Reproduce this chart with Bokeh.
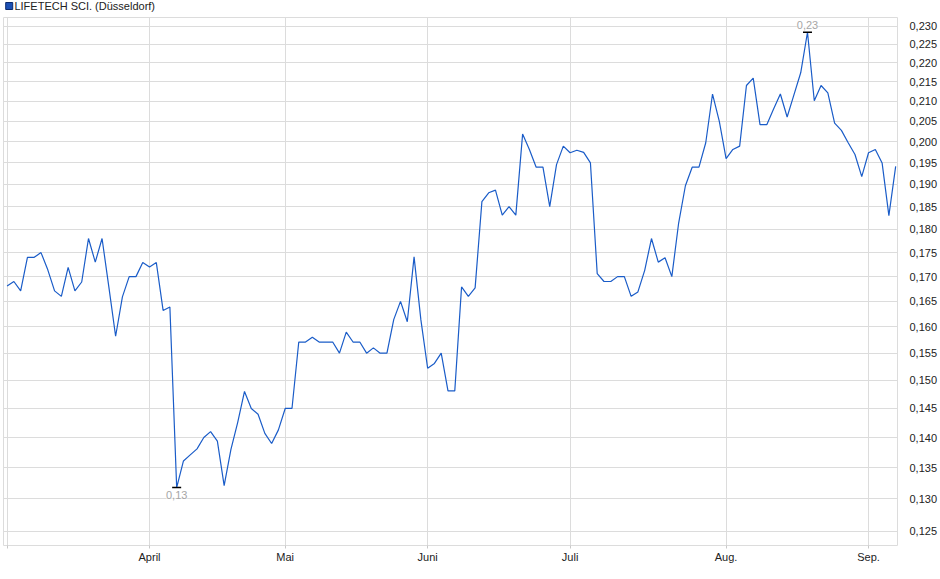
from bokeh.plotting import figure
from bokeh.layouts import column
from bokeh.models import (Range1d, FixedTicker, CustomJSTickFormatter,
                          ColumnDataSource)
from bokeh.core.properties import value
from bokeh.embed import file_html
from bokeh.resources import INLINE

series_name = "LIFETECH SCI. (Düsseldorf)"

# closing prices per trading day (index 0 = first trading day in March)
prices = [
    0.1681, 0.1690, 0.1671, 0.1740, 0.1740, 0.1750, 0.1714, 0.1671, 0.1660, 0.1719,
    0.1671, 0.1689, 0.1780, 0.1730, 0.1780, 0.1679, 0.1582, 0.1659, 0.1700, 0.1700,
    0.1729, 0.1720, 0.1729, 0.1632, 0.1639, 0.1318, 0.1361, 0.1371, 0.1381, 0.1400,
    0.1410, 0.1394, 0.1321, 0.1380, 0.1426, 0.1480, 0.1450, 0.1440, 0.1407, 0.1390,
    0.1413, 0.1450, 0.1450, 0.1571, 0.1571, 0.1580, 0.1571, 0.1571, 0.1571, 0.1550,
    0.1590, 0.1571, 0.1571, 0.1550, 0.1560, 0.1550, 0.1550, 0.1614, 0.1650, 0.1610,
    0.1741, 0.1614, 0.1522, 0.1531, 0.1550, 0.1481, 0.1481, 0.1679, 0.1660, 0.1677,
    0.1861, 0.1881, 0.1887, 0.1831, 0.1850, 0.1831, 0.2019, 0.1982, 0.1940, 0.1940,
    0.1850, 0.1946, 0.1990, 0.1974, 0.1980, 0.1975, 0.1950, 0.1706, 0.1690, 0.1690,
    0.1700, 0.1700, 0.1660, 0.1669, 0.1713, 0.1780, 0.1730, 0.1739, 0.1700, 0.1813,
    0.1897, 0.1940, 0.1940, 0.1998, 0.2119, 0.2050, 0.1960, 0.1982, 0.1990, 0.2141,
    0.2160, 0.2042, 0.2042, 0.2081, 0.2119, 0.2061, 0.2117, 0.2174, 0.2283, 0.2102,
    0.2141, 0.2122, 0.2046, 0.2028, 0.1998, 0.1970, 0.1918, 0.1974, 0.1982, 0.1950,
    0.1830, 0.1942,
]
day_index = list(range(len(prices)))

# trading-day index of first trading day of each month, and its label
month_tick_index = [0, 21, 41, 62, 83, 106, 127]
month_labels = ["", "April", "Mai", "Juni", "Juli", "Aug.", "Sep."]

price_ticks = [0.125, 0.130, 0.135, 0.140, 0.145, 0.150, 0.155, 0.160, 0.165,
               0.170, 0.175, 0.180, 0.185, 0.190, 0.195, 0.200, 0.205, 0.210,
               0.215, 0.220, 0.225, 0.230]

FONT = "Liberation Sans"
GRID = "#dcdcdc"
LINE_COLOR = "#1a5cc8"
TEXT_COLOR = "#222222"
TOTAL_W = 932
LEG_H = 17

# ---------- legend strip (separate small figure above the chart) ----------
leg = figure(width=TOTAL_W, height=LEG_H, output_backend="svg",
             toolbar_location=None, x_axis_location=None, y_axis_location=None,
             x_range=Range1d(0, TOTAL_W), y_range=Range1d(0, LEG_H))
leg.min_border = 0
leg.outline_line_color = None
leg.xgrid.visible = False
leg.ygrid.visible = False
leg.scatter([6], [LEG_H - 5.5], marker="square", size=7, fill_color="#1c50b4",
            line_color="#0b2a6e", line_width=1)
leg.text([11.5], [LEG_H - 5.5], text=[series_name], text_baseline="middle",
         text_align="left", text_font=value(FONT), text_font_size="11px",
         text_color=TEXT_COLOR)

# ---------- main chart ----------
FRAME_H = 528
p = figure(frame_width=894, frame_height=FRAME_H, output_backend="svg",
           toolbar_location=None, y_axis_type="log", y_axis_location="right",
           x_range=Range1d(-0.53, 131.27),
           y_range=Range1d(0.1229, 0.2324))
p.min_border_left = 3
p.min_border_top = 0
p.min_border_right = 0
p.min_border_bottom = 4
p.outline_line_color = GRID
p.outline_line_width = 1
p.background_fill_color = "white"
p.border_fill_color = "white"

p.xaxis.ticker = FixedTicker(ticks=month_tick_index, minor_ticks=[])
p.xaxis.major_label_overrides = {t: l for t, l in zip(month_tick_index, month_labels)}
p.xaxis.axis_line_color = None
p.xaxis.major_tick_in = 0
p.xaxis.major_tick_out = 3
p.xaxis.major_tick_line_color = "#c8c8c8"
p.xaxis.minor_tick_line_color = None
p.xaxis.major_label_standoff = 2
p.xaxis.major_label_text_font = FONT
p.xaxis.major_label_text_font_size = "11px"
p.xaxis.major_label_text_color = TEXT_COLOR

p.yaxis.ticker = FixedTicker(ticks=price_ticks, minor_ticks=[])
p.yaxis.formatter = CustomJSTickFormatter(code="return tick.toFixed(3).replace('.', ',');")
p.yaxis.axis_line_color = None
p.yaxis.major_tick_line_color = None
p.yaxis.minor_tick_line_color = None
p.yaxis.major_label_standoff = 6
p.yaxis.major_label_text_font = FONT
p.yaxis.major_label_text_font_size = "11px"
p.yaxis.major_label_text_color = TEXT_COLOR

p.xgrid.grid_line_color = GRID
p.ygrid.grid_line_color = GRID

src = ColumnDataSource(dict(x=day_index, y=prices))
p.line("x", "y", source=src, line_color=LINE_COLOR, line_width=1.2)

# max / min markers
imax = prices.index(max(prices))
imin = prices.index(min(prices))
fmt = lambda v: f"{round(v, 2):.2f}".replace(".", ",")
p.scatter([imax, imin], [prices[imax], prices[imin]], marker="dash", size=9,
          line_color="black", line_width=1.5)
p.text([imax], [prices[imax]], text=[fmt(prices[imax])], text_align="center",
       text_baseline="bottom", y_offset=-3, text_font=value(FONT),
       text_font_size="11px", text_color="#a6a6a6",
       background_fill_color="white", background_fill_alpha=0.85)
p.text([imin], [prices[imin]], text=[fmt(prices[imin])], text_align="center",
       text_baseline="top", y_offset=3, text_font=value(FONT),
       text_font_size="11px", text_color="#a6a6a6",
       background_fill_color="white", background_fill_alpha=0.85)

layout = column(leg, p, spacing=0)
open("out.html", "w").write(file_html(layout, INLINE))
